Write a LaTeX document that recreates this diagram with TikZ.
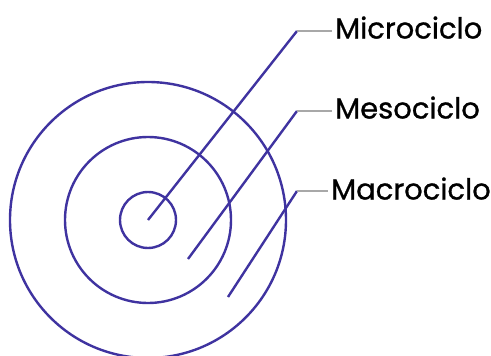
\documentclass[tikz,border=0pt]{standalone}
\usepackage{fontspec}
\setmainfont{Poppins}
\newfontfamily\tagfont{Poppins}[FakeBold=0.9]
\usetikzlibrary{calc}
\definecolor{ringpurple}{HTML}{3F33A0}
\definecolor{leadergray}{HTML}{A8A8A8}

\begin{document}
\begin{tikzpicture}[x=1pt, y=-1pt,
  ring/.style={draw=ringpurple, line width=2.4pt, circle, inner sep=0pt},
  pointer/.style={draw=ringpurple, line width=2.4pt},
  leader/.style={draw=leadergray, line width=2pt},
  tag/.style={anchor=base west, inner xsep=3pt, inner ysep=0pt,
    font=\tagfont\fontsize{29}{29}\selectfont}]
  \useasboundingbox (0,0) rectangle (491,356);

  % concentric rings
  \coordinate (centre) at (148,220);
  \node[ring, minimum size=56pt]  (micro) at (centre) {};
  \node[ring, minimum size=166pt] (meso)  at (centre) {};
  \node[ring, minimum size=276pt] (macro) at (centre) {};

  % labels
  \node[tag] (microlbl) at (332,38.5)  {Microciclo};
  \node[tag] (mesolbl)  at (332,118.5) {Mesociclo};
  \node[tag] (macrolbl) at (328,199.5) {Macrociclo};

  % pointer ends and bends
  \coordinate (microtip)  at (148,220);
  \coordinate (microbend) at (297,31);
  \coordinate (mesotip)   at (188,259);
  \coordinate (mesobend)  at (297,111);
  \coordinate (macrotip)  at (228,297);
  \coordinate (macrobend) at (297,191);

  \foreach \name in {micro,meso,macro}{
    \draw[pointer] (\name tip) -- (\name bend);
    \draw[leader] (\name bend) -- (\name bend -| \name lbl.west);
  }
\end{tikzpicture}
\end{document}
